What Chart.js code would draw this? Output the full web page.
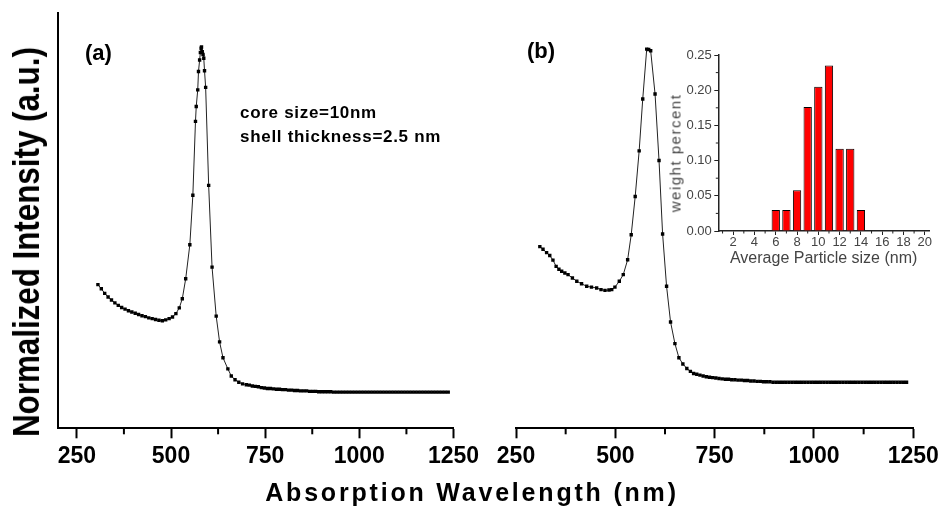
<!DOCTYPE html>
<html>
<head>
<meta charset="utf-8">
<script src="https://cdn.jsdelivr.net/npm/chart.js@4.4.1/dist/chart.umd.min.js"></script>
<style>
  html, body { margin: 0; padding: 0; background: #fff; }
  #wrap { position: relative; width: 943px; height: 506px; overflow: hidden; font-family: "Liberation Sans", Arial, sans-serif; }
  canvas { position: absolute; }
  .lbl { position: absolute; white-space: nowrap; color: #000; line-height: 1; }
  .rot { transform: translate(-50%, -50%) rotate(-90deg); }
</style>
</head>
<body>
<div id="wrap">
  <canvas id="chartA" width="495" height="506" style="left:0;top:0"></canvas>
  <canvas id="chartB" width="478" height="506" style="left:480px;top:0"></canvas>
  <canvas id="chartInset" width="293" height="240" style="left:650px;top:40px"></canvas>

  <div class="lbl" style="left:26.5px;top:242px;font-weight:bold;font-size:36px;transform:translate(-50%,-50%) rotate(-90deg) scaleX(0.87);">Normalized Intensity (a.u.)</div>
  <div class="lbl" style="left:472px;top:492px;font-weight:bold;font-size:25px;letter-spacing:2.8px;transform:translate(-50%,-50%);">Absorption Wavelength (nm)</div>
  <div class="lbl" style="left:85px;top:42px;font-weight:bold;font-size:22px;">(a)</div>
  <div class="lbl" style="left:527px;top:40px;font-weight:bold;font-size:22px;">(b)</div>
  <div class="lbl" style="left:240px;top:103.6px;font-weight:bold;font-size:17px;letter-spacing:0.7px;">core size=10nm</div>
  <div class="lbl" style="left:240px;top:128.3px;font-weight:bold;font-size:17px;letter-spacing:0.7px;">shell thickness=2.5 nm</div>
  <div class="lbl rot" style="left:675px;top:152.5px;font-size:15px;letter-spacing:1.5px;color:#444;">weight percent</div>
</div>

<script>
// panel (a): core 10 nm, shell 2.5 nm
const wavelengthA = [
  306, 315, 324, 333, 342, 351, 360, 369, 378, 387, 396, 405, 414, 423, 432, 441, 450, 459, 468, 477,
  486, 495, 504, 513, 522, 530, 539, 550, 558, 565, 567, 571, 573, 576, 578, 580, 581, 583, 585, 587,
  589, 592, 600, 609, 620, 629, 638, 651, 660, 670, 680, 690, 700, 708, 716, 724, 732, 740, 748, 756,
  764, 772, 780, 788, 796, 804, 812, 820, 828, 836, 844, 852, 860, 868, 876, 884, 892, 900, 908, 916,
  924, 932, 940, 948, 956, 964, 972, 980, 988, 996, 1004, 1012, 1020, 1028, 1036, 1044, 1052, 1060, 1068, 1076,
  1084, 1092, 1100, 1108, 1116, 1124, 1132, 1140, 1148, 1156, 1164, 1172, 1180, 1188, 1196, 1204, 1212, 1220, 1228, 1236
];
const intensityA = [
  0.346, 0.336, 0.325, 0.316, 0.309, 0.302, 0.296, 0.291, 0.287, 0.283, 0.280, 0.277, 0.274, 0.271, 0.269, 0.266, 0.264, 0.262, 0.260, 0.259,
  0.261, 0.264, 0.268, 0.276, 0.290, 0.312, 0.360, 0.442, 0.561, 0.739, 0.775, 0.815, 0.859, 0.887, 0.905, 0.915, 0.918, 0.907, 0.900, 0.891,
  0.861, 0.821, 0.585, 0.388, 0.270, 0.208, 0.170, 0.143, 0.126, 0.117, 0.111, 0.107, 0.105, 0.104, 0.102, 0.101, 0.100, 0.098, 0.097, 0.096,
  0.096, 0.095, 0.094, 0.094, 0.093, 0.093, 0.092, 0.092, 0.091, 0.091, 0.090, 0.090, 0.090, 0.089, 0.089, 0.089, 0.088, 0.088, 0.088, 0.088,
  0.088, 0.087, 0.087, 0.087, 0.087, 0.087, 0.087, 0.087, 0.087, 0.087, 0.087, 0.087, 0.087, 0.087, 0.087, 0.087, 0.087, 0.087, 0.087, 0.087,
  0.087, 0.087, 0.087, 0.087, 0.087, 0.087, 0.087, 0.087, 0.087, 0.087, 0.087, 0.087, 0.087, 0.087, 0.087, 0.087, 0.087, 0.087, 0.087, 0.087
];

// panel (b)
const wavelengthB = [
  310, 318, 327, 335, 343, 351, 358, 365, 373, 381, 392, 403, 415, 428, 440, 453, 464, 474, 484, 491,
  499, 510, 520, 531, 540, 550, 560, 569, 579, 584, 589, 600, 610, 619, 629, 639, 650, 660, 670, 680,
  689, 697, 705, 713, 721, 729, 737, 745, 753, 761, 769, 777, 785, 793, 801, 809, 817, 825, 833, 841,
  849, 857, 865, 873, 881, 889, 897, 905, 913, 921, 929, 937, 945, 953, 961, 969, 977, 985, 993, 1001,
  1009, 1017, 1025, 1033, 1041, 1049, 1057, 1065, 1073, 1081, 1089, 1097, 1105, 1113, 1121, 1129, 1137, 1145, 1153, 1161,
  1169, 1177, 1185, 1193, 1201, 1209, 1217, 1225, 1233
];
const intensityB = [
  0.4375, 0.431, 0.423, 0.416, 0.405, 0.390, 0.383, 0.378, 0.374, 0.370, 0.362, 0.354, 0.348, 0.342, 0.340, 0.338, 0.334, 0.332, 0.333, 0.334,
  0.340, 0.354, 0.370, 0.406, 0.466, 0.558, 0.668, 0.793, 0.913, 0.912, 0.909, 0.805, 0.645, 0.468, 0.342, 0.256, 0.204, 0.170, 0.155, 0.144,
  0.137, 0.132, 0.130, 0.128, 0.126, 0.124, 0.123, 0.122, 0.121, 0.120, 0.119, 0.118, 0.118, 0.117, 0.117, 0.116, 0.116, 0.115, 0.115, 0.114,
  0.114, 0.113, 0.113, 0.112, 0.112, 0.112, 0.111, 0.111, 0.111, 0.111, 0.111, 0.111, 0.111, 0.111, 0.111, 0.111, 0.111, 0.111, 0.111, 0.111,
  0.111, 0.111, 0.111, 0.111, 0.111, 0.111, 0.111, 0.111, 0.111, 0.111, 0.111, 0.111, 0.111, 0.111, 0.111, 0.111, 0.111, 0.111, 0.111, 0.111,
  0.111, 0.111, 0.111, 0.111, 0.111, 0.111, 0.111, 0.111, 0.111
];

// inset histogram
const particleSize = [6, 7, 8, 9, 10, 11, 12, 13, 14];
const weightPercent = [0.030, 0.030, 0.058, 0.176, 0.205, 0.235, 0.117, 0.117, 0.030];

// ticks
const wlTicks = [250, 500, 750, 1000, 1250];
const wlMinor = [375, 625, 875, 1125];
const sizeTicks = [2, 4, 6, 8, 10, 12, 14, 16, 18, 20];
const sizeMinor = [1, 3, 5, 7, 9, 11, 13, 15, 17, 19];
const weightTicks = [0, 0.05, 0.10, 0.15, 0.20, 0.25];
const weightMinor = [0.025, 0.075, 0.125, 0.175, 0.225];

Chart.defaults.font.family = '"Liberation Sans", Arial, sans-serif';
Chart.defaults.animation = false;

// small ticks between the labelled ones
const minorTicks = {
    id: 'minorTicks',
    afterDraw(chart, args, opts) {
        const ctx = chart.ctx;
        ctx.save();
        ctx.strokeStyle = opts.color;
        ctx.lineWidth = opts.width;
        const xs = chart.scales.x;
        (opts.x || []).forEach(v => {
            const px = xs.getPixelForValue(v);
            ctx.beginPath();
            ctx.moveTo(px, xs.top);
            ctx.lineTo(px, xs.top + opts.length);
            ctx.stroke();
        });
        const ys = chart.scales.y;
        (opts.y || []).forEach(v => {
            const py = ys.getPixelForValue(v);
            ctx.beginPath();
            ctx.moveTo(ys.right, py);
            ctx.lineTo(ys.right - opts.length, py);
            ctx.stroke();
        });
        ctx.restore();
    }
};

function spectrum(id, xs, ys, xmin, pad, yWidth) {
    return new Chart(document.getElementById(id), {
        type: 'line',
        data: {
            datasets: [{
                data: xs.map((w, i) => ({ x: w, y: ys[i] })),
                borderColor: '#222',
                borderWidth: 1,
                pointStyle: 'rect',
                pointRadius: 2.4,
                pointBackgroundColor: '#000',
                pointBorderWidth: 0,
                tension: 0
            }]
        },
        options: {
            responsive: false,
            layout: { padding: pad },
            plugins: {
                legend: { display: false },
                tooltip: { enabled: false },
                minorTicks: { x: wlMinor, length: 6, width: 2, color: '#000' }
            },
            scales: {
                x: {
                    type: 'linear',
                    min: xmin,
                    max: 1250,
                    afterBuildTicks: s => { s.ticks = wlTicks.map(v => ({ value: v })); },
                    afterFit: s => { s.height = 77.7; },
                    grid: { drawOnChartArea: false, tickLength: 10, tickWidth: 2, tickColor: '#000' },
                    border: { display: true, color: '#000', width: 2 },
                    ticks: {
                        font: { size: 23, weight: 'bold' },
                        color: '#000',
                        padding: 4.5,
                        maxRotation: 0,
                        autoSkip: false,
                        callback: v => String(v)
                    }
                },
                y: {
                    display: yWidth > 0,
                    min: 0,
                    max: 1,
                    afterFit: s => { s.width = yWidth; },
                    grid: { display: false },
                    ticks: { display: false },
                    border: { display: true, color: '#000', width: 2 }
                }
            }
        },
        plugins: [minorTicks]
    });
}

spectrum('chartA', wavelengthA, intensityA, 200, { left: 0, top: 13, right: 41.5, bottom: 0 }, 58);
spectrum('chartB', wavelengthB, intensityB, 250, { left: 36, top: 13, right: 44.7, bottom: 0 }, 0);

new Chart(document.getElementById('chartInset'), {
    type: 'bar',
    data: {
        datasets: [{
            data: particleSize.map((s, i) => ({ x: s, y: weightPercent[i] })),
            backgroundColor: '#ff0000',
            borderColor: '#000',
            borderWidth: 1,
            barPercentage: 0.78,
            categoryPercentage: 1
        }]
    },
    options: {
        responsive: false,
        layout: { padding: { left: 0, top: 15, right: 14, bottom: 0 } },
        plugins: {
            legend: { display: false },
            tooltip: { enabled: false },
            minorTicks: { x: sizeMinor, y: weightMinor, length: 2.5, width: 1, color: '#222' }
        },
        scales: {
            x: {
                type: 'linear',
                min: 0.6,
                max: 20.4,
                offset: false,
                afterBuildTicks: s => { s.ticks = sizeTicks.map(v => ({ value: v })); },
                afterFit: s => { s.height = 49; },
                grid: { offset: false, drawOnChartArea: false, tickLength: 4, tickWidth: 1, tickColor: '#222' },
                border: { display: true, color: '#222', width: 1.5 },
                ticks: { font: { size: 13 }, color: '#444', padding: 0, maxRotation: 0, autoSkip: false },
                title: {
                    display: true,
                    text: 'Average Particle size (nm)',
                    font: { size: 16 },
                    color: '#444',
                    padding: 11.4
                }
            },
            y: {
                min: 0,
                max: 0.25,
                afterBuildTicks: s => { s.ticks = weightTicks.map(v => ({ value: v })); },
                afterFit: s => { s.width = 68.3; },
                grid: { drawOnChartArea: false, tickLength: 4, tickWidth: 1, tickColor: '#222' },
                border: { display: true, color: '#222', width: 1.5 },
                ticks: {
                    font: { size: 13 },
                    color: '#444',
                    padding: 2.6,
                    callback: v => v.toFixed(2)
                }
            }
        }
    },
    plugins: [minorTicks]
});
</script>
</body>
</html>
